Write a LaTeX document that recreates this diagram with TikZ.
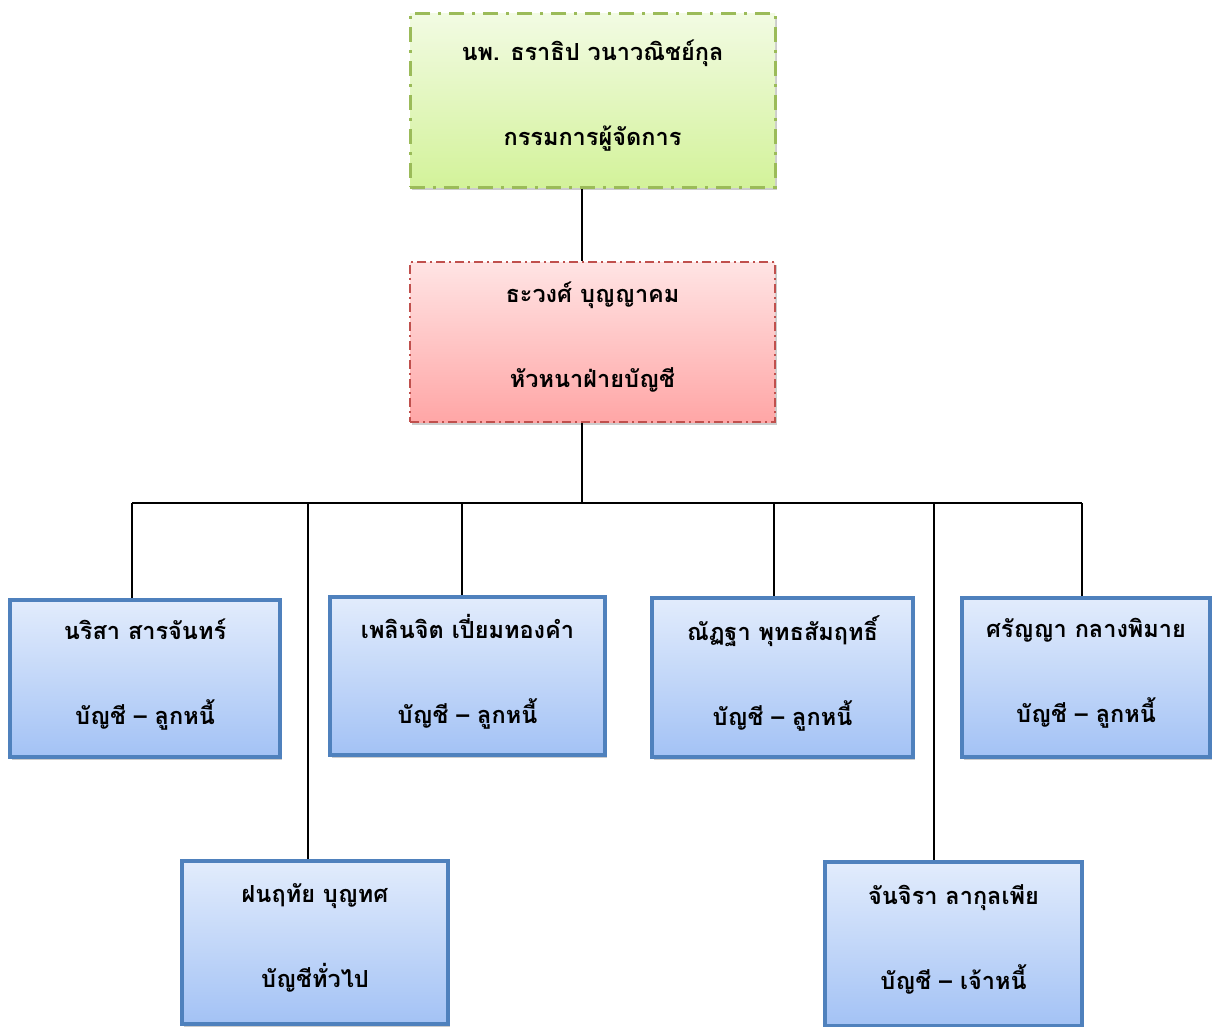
\documentclass[tikz,border=0pt]{standalone}
\usepackage{fontspec}
\usetikzlibrary{shadows}
\newfontfamily\thai[Script=Thai]{Loma}
\definecolor{grnborder}{HTML}{9BBB59}
\definecolor{grntop}{HTML}{F2FBE3}
\definecolor{grnbot}{HTML}{D3F29A}
\definecolor{redborder}{HTML}{C0504D}
\definecolor{redtop}{HTML}{FFE4E4}
\definecolor{redbot}{HTML}{FFA6A6}
\definecolor{bluborder}{HTML}{4F81BD}
\definecolor{blutop}{HTML}{E2ECFC}
\definecolor{blubot}{HTML}{A3C2F5}
\tikzset{
  boxtext/.style={align=center,text=black,font=\thai\bfseries\fontsize{23.5}{85}\selectfont,inner sep=0pt,text depth=14pt},
  topbox/.style={boxtext,draw=grnborder,line width=3pt,top color=grntop,bottom color=grnbot,
    dash pattern=on 15pt off 8pt on 3pt off 8pt,
    drop shadow={shadow xshift=2pt,shadow yshift=-3pt,opacity=0.4}},
  redbox/.style={boxtext,draw=redborder,line width=1.4pt,top color=redtop,bottom color=redbot,
    dash pattern=on 9pt off 4pt on 2pt off 4pt,
    drop shadow={shadow xshift=2pt,shadow yshift=-3pt,opacity=0.4}},
  blubox/.style={boxtext,draw=bluborder,line width=3.5pt,top color=blutop,bottom color=blubot,
    drop shadow={shadow xshift=2pt,shadow yshift=-3pt,opacity=0.4}},
  conn/.style={draw=black,line width=1.6pt}
}
\begin{document}
\begin{tikzpicture}[x=1pt,y=-1pt]
\useasboundingbox (0,0) rectangle (1212,1026);
\node[topbox,minimum width=365pt,minimum height=174pt] (md) at (592.5,100) {นพ. ธราธิป วนาวณิชย์กุล\\กรรมการผู้จัดการ};
\node[redbox,minimum width=365pt,minimum height=160pt] (head) at (592.5,342) {ธะวงศ์ บุญญาคม\\หัวหนาฝ่ายบัญชี};
\node[blubox,minimum width=270pt,minimum height=157pt] (b1) at (145,678.5) {นริสา สารจันทร์\\บัญชี – ลูกหนี้};
\node[blubox,minimum width=275pt,minimum height=158pt] (b2) at (467.5,676) {เพลินจิต เปี่ยมทองคำ\\บัญชี – ลูกหนี้};
\node[blubox,minimum width=261pt,minimum height=159pt] (b3) at (782.5,677.5) {ณัฏฐา พุทธสัมฤทธิ์\\บัญชี – ลูกหนี้};
\node[blubox,minimum width=248pt,minimum height=159pt] (b4) at (1086,677.5) {ศรัญญา กลางพิมาย\\บัญชี – ลูกหนี้};
\node[blubox,minimum width=266pt,minimum height=163pt] (b5) at (315,942.5) {ฝนฤทัย บุญทศ\\บัญชีทั่วไป};
\node[blubox,minimum width=257pt,minimum height=164pt] (b6) at (953.5,944) {จันจิรา ลากุลเพีย\\บัญชี – เจ้าหนี้};
\coordinate (bus) at (582,503);
\coordinate (j1) at (132,503);
\coordinate (j5) at (308,503);
\coordinate (j2) at (462,503);
\coordinate (j3) at (774,503);
\coordinate (j6) at (934,503);
\coordinate (j4) at (1082,503);
\draw[conn] (md.south -| bus) -- (head.north -| bus);
\draw[conn] (head.south -| bus) -- (bus);
\draw[conn] (j1) -- (j4);
\draw[conn] (j1) -- (j1 |- b1.north);
\draw[conn] (j2) -- (j2 |- b2.north);
\draw[conn] (j3) -- (j3 |- b3.north);
\draw[conn] (j4) -- (j4 |- b4.north);
\draw[conn] (j5) -- (j5 |- b5.north);
\draw[conn] (j6) -- (j6 |- b6.north);
\end{tikzpicture}
\end{document}
